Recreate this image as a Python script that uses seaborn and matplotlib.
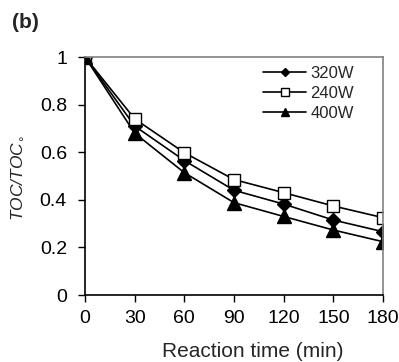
import numpy as np
import pandas as pd
import matplotlib
matplotlib.use("Agg")
import matplotlib.pyplot as plt
import seaborn as sns

time_min = [0, 30, 60, 90, 120, 150, 180]
toc_320w = [1.00, 0.71, 0.565, 0.44, 0.382, 0.315, 0.266]
toc_240w = [1.00, 0.74, 0.598, 0.485, 0.43, 0.374, 0.325]
toc_400w = [1.00, 0.68, 0.514, 0.388, 0.33, 0.273, 0.224]
series = ["320W", "240W", "400W"]

df = pd.DataFrame({
    "time": time_min * 3,
    "toc": toc_320w + toc_240w + toc_400w,
    "power": sum([[s] * len(time_min) for s in series], []),
})

sns.set_style("ticks")
plt.rcParams["font.family"] = ["Liberation Sans", "DejaVu Sans"]

fig = plt.figure(figsize=(3.99, 3.62), dpi=100)
ax = fig.add_axes([85 / 399, 1 - 295 / 362, 298 / 399, 238 / 362])

styles = {
    "320W": dict(marker="D", mfc="black", ms=7.5),
    "240W": dict(marker="s", mfc="white", ms=8.5),
    "400W": dict(marker="^", mfc="black", ms=10),
}
for s in series:
    sub = df[df["power"] == s]
    sns.lineplot(data=sub, x="time", y="toc", ax=ax, color="black", lw=1.2,
                 marker=styles[s]["marker"], markersize=styles[s]["ms"],
                 markerfacecolor=styles[s]["mfc"], markeredgecolor="black",
                 markeredgewidth=1.0, label=s)

ax.set_xlim(0, 180)
ax.set_ylim(0, 1)
ax.set_xticks(time_min)
ax.set_yticks([0, 0.2, 0.4, 0.6, 0.8, 1.0])
ax.set_yticklabels(["0", "0.2", "0.4", "0.6", "0.8", "1"])
ax.tick_params(axis="both", labelsize=14, direction="out", length=5, width=1,
               colors="black")
ax.tick_params(axis="y", pad=8)
ax.tick_params(axis="x", pad=6)
for sp in ["left", "bottom"]:
    ax.spines[sp].set_color("black")
    ax.spines[sp].set_linewidth(1.2)
for sp in ["top", "right"]:
    ax.spines[sp].set_visible(True)
    ax.spines[sp].set_color("#808080")
    ax.spines[sp].set_linewidth(1.2)

ax.set_xlabel("Reaction time (min)", fontsize=15)
ax.xaxis.set_label_coords(0.564, -0.198)
ax.set_ylabel("TOC/TOC$_{\\circ}$", fontsize=12.5, style="italic")
ax.yaxis.set_label_coords(-0.205, 0.49)

leg = ax.legend(loc="upper left", frameon=False, fontsize=12, handlelength=2.6,
                handletextpad=0.25, labelspacing=0.3, borderpad=0,
                borderaxespad=0, markerscale=0.6,
                bbox_to_anchor=(0.597, 0.962))

fig.text(12 / 399, 1 - 22 / 362, "(b)", fontsize=15, fontweight="bold",
         va="center", ha="left")

fig.savefig("out.png", dpi=100)
